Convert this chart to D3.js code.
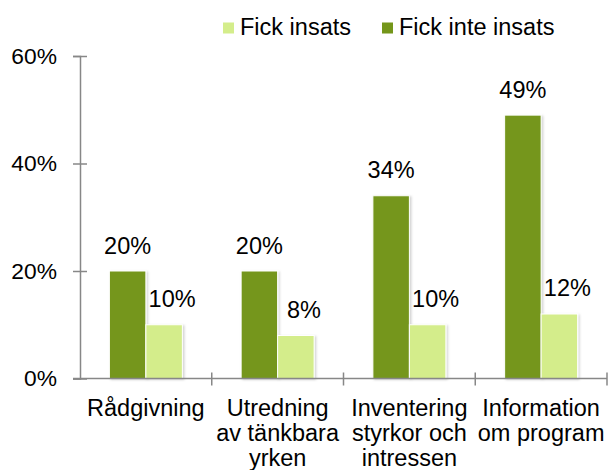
<!DOCTYPE html>
<html>
<head>
<meta charset="utf-8">
<script src="https://cdn.jsdelivr.net/npm/d3@7"></script>
<style>
  html, body { margin: 0; padding: 0; background: #fff; }
  svg { display: block; }
  text { font-family: "Liberation Sans", Arial, sans-serif; fill: #000; }
</style>
</head>
<body>
<svg id="chart" width="609" height="470"></svg>
<script>
const categories = [
  ["Rådgivning"],
  ["Utredning", "av tänkbara", "yrken"],
  ["Inventering", "styrkor och", "intressen"],
  ["Information", "om program"]
];
const seriesNames = ["Fick inte insats", "Fick insats"];
const fickInteInsats = [0.20, 0.20, 0.34, 0.49];
const fickInsats = [0.10, 0.08, 0.10, 0.12];
const seriesLabels = {
  "Fick inte insats": ["20%", "20%", "34%", "49%"],
  "Fick insats": ["10%", "8%", "10%", "12%"]
};
const yTicks = [0, 0.2, 0.4, 0.6];
const legendOrder = ["Fick insats", "Fick inte insats"];

const colors = { "Fick inte insats": "#74961A", "Fick insats": "#D4ED8B" };
const values = { "Fick inte insats": fickInteInsats, "Fick insats": fickInsats };

const svg = d3.select("#chart");
const fontSize = 23.5;
const tickFontSize = 22.8;
const axisColor = "#878787";

const catKeys = categories.map(c => c.join(" "));
const x = d3.scaleBand().domain(catKeys).range([80, 607]).paddingInner(0.446).paddingOuter(0.223);
const xs = d3.scaleBand().domain(seriesNames).range([0, x.bandwidth()]);
const y = d3.scaleLinear().domain([0, 0.6]).range([378.5, 56]);

// defs: shadow
const defs = svg.append("defs");
const f = defs.append("filter").attr("id", "sh").attr("x", "-20%").attr("y", "-10%").attr("width", "150%").attr("height", "130%");
f.append("feDropShadow").attr("dx", 1.5).attr("dy", 1).attr("stdDeviation", 1).attr("flood-color", "#000").attr("flood-opacity", 0.18);

// bars
const data = [];
catKeys.forEach((k, i) => seriesNames.forEach(s => data.push({ k, i, s, v: values[s][i], label: seriesLabels[s][i] })));

svg.append("g").selectAll("rect").data(data).join("rect")
  .attr("x", d => x(d.k) + xs(d.s))
  .attr("y", d => y(d.v))
  .attr("width", xs.bandwidth())
  .attr("height", d => y(0) - y(d.v))
  .attr("fill", d => colors[d.s])
  .attr("stroke", "#fff")
  .attr("stroke-width", 1)
  .attr("filter", "url(#sh)");

// value labels
svg.append("g").selectAll("text").data(data).join("text")
  .attr("x", d => x(d.k) + xs(d.s) + xs.bandwidth() / 2 + (d.s === "Fick insats" ? 8 : 0))
  .attr("y", d => y(d.v) - (d.s === "Fick insats" ? 18 : 17.5))
  .attr("text-anchor", "middle")
  .attr("font-size", fontSize)
  .text(d => d.label);

// y axis
const yAxis = svg.append("g").attr("transform", "translate(80,0)")
  .call(d3.axisLeft(y).tickValues(yTicks).tickFormat(d3.format(".0%")).tickSize(7).tickPadding(16));
yAxis.select(".domain").attr("stroke", axisColor).attr("stroke-width", 1.5);
yAxis.selectAll(".tick line").attr("stroke", axisColor).attr("stroke-width", 1.5).attr("x1", 7);
yAxis.selectAll(".tick text").attr("font-size", tickFontSize).attr("font-family", "Liberation Sans, Arial, sans-serif").attr("fill", "#000");

// x axis with boundary ticks
const xAxisG = svg.append("g");
xAxisG.append("line").attr("x1", 73).attr("x2", 607).attr("y1", y(0)).attr("y2", y(0))
  .attr("stroke", axisColor).attr("stroke-width", 1.5);
const boundaries = catKeys.map(k => x(k) - x.step() * x.paddingInner() / 2);
boundaries.push(x(catKeys[catKeys.length - 1]) + x.bandwidth() + x.step() * x.paddingInner() / 2);
xAxisG.selectAll("line.b").data(boundaries.slice(1)).join("line").attr("class", "b")
  .attr("x1", d => d).attr("x2", d => d)
  .attr("y1", y(0) - 6).attr("y2", y(0) + 7)
  .attr("stroke", axisColor).attr("stroke-width", 1.5);

// category labels
const labG = svg.append("g");
categories.forEach((lines, i) => {
  const cx = x(catKeys[i]) + x.bandwidth() / 2;
  const t = labG.append("text")
    .attr("x", cx)
    .attr("y", 416)
    .attr("text-anchor", "middle")
    .attr("font-size", fontSize);
  lines.forEach((ln, j) => t.append("tspan").attr("x", cx).attr("dy", j === 0 ? 0 : 25).text(ln));
});

// legend
const legendX = { "Fick insats": 223, "Fick inte insats": 382 };
const lg = svg.append("g");
legendOrder.forEach(s => {
  lg.append("rect").attr("x", legendX[s]).attr("y", 22.5).attr("width", 11).attr("height", 11).attr("fill", colors[s]);
  lg.append("text").attr("x", legendX[s] + 17).attr("y", 35).attr("font-size", fontSize).text(s);
});
</script>
</body>
</html>
